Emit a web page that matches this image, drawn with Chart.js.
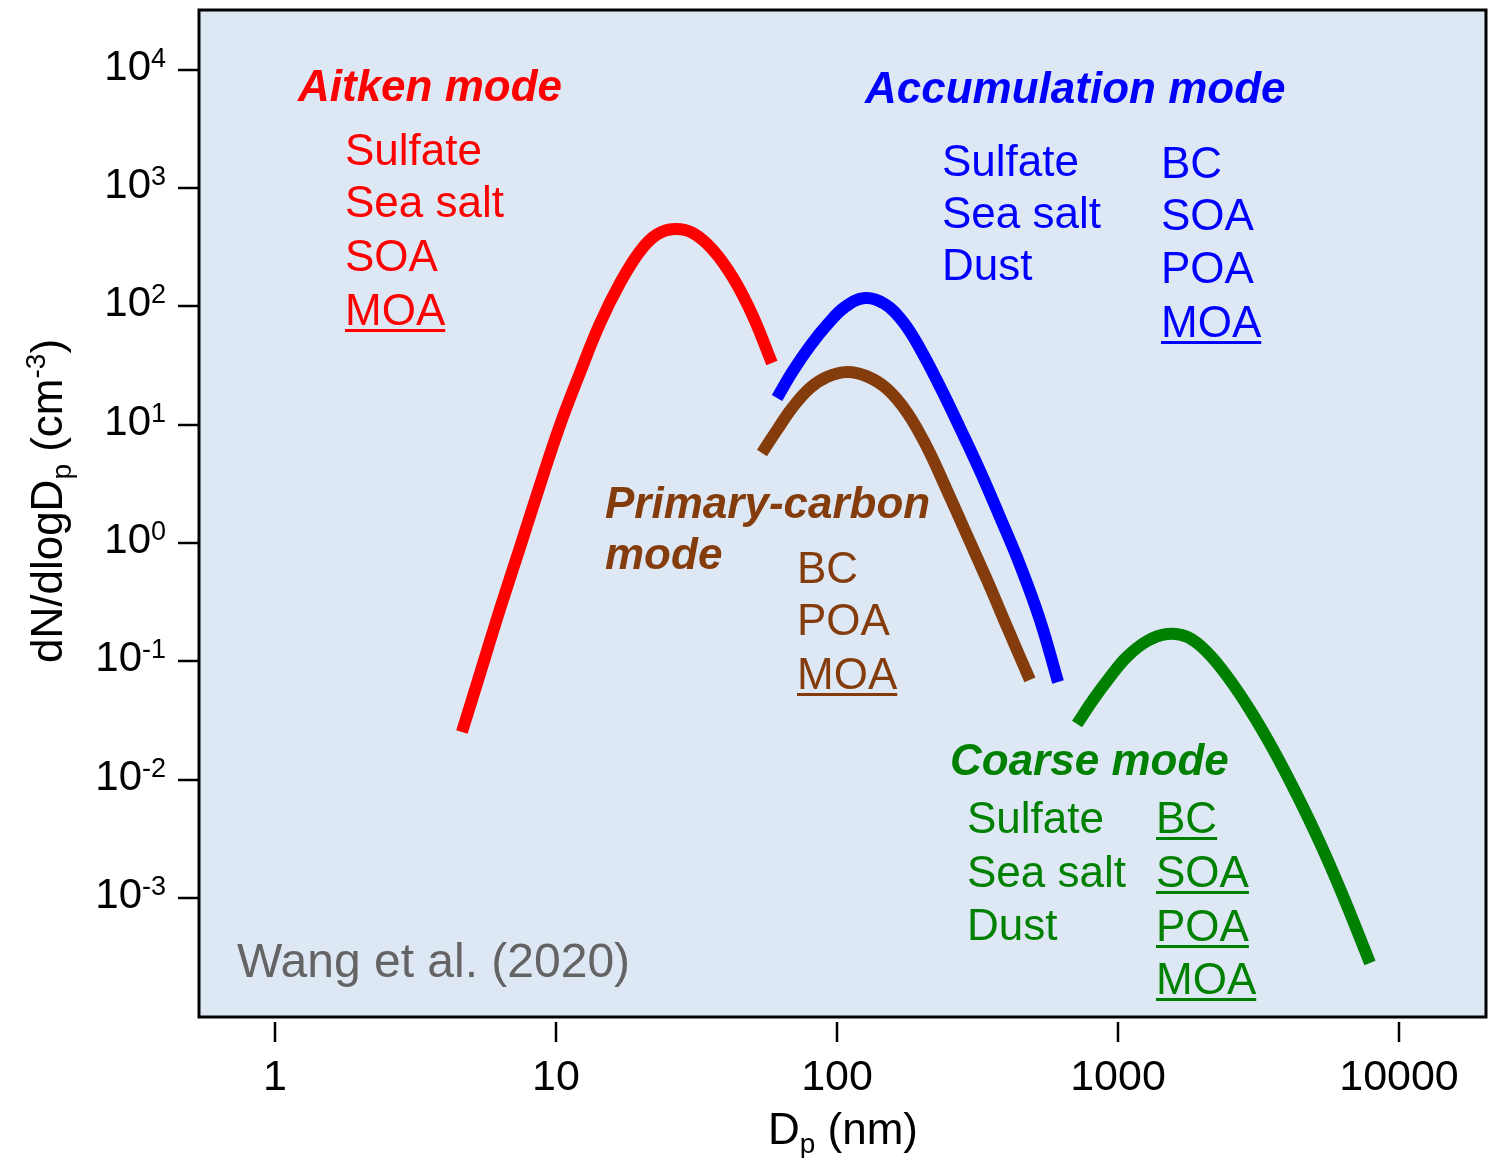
<!DOCTYPE html>
<html>
<head>
<meta charset="utf-8">
<script src="https://cdn.jsdelivr.net/npm/chart.js@4.4.1/dist/chart.umd.min.js"></script>
<style>
  html, body { margin: 0; padding: 0; background: #ffffff; }
  #wrap { width: 1494px; height: 1158px; }
</style>
</head>
<body>
<div id="wrap"><canvas id="modes"></canvas></div>
<script>

// axis ticks
const xTicks = [1, 10, 100, 1000, 10000];
const yTickExps = [4, 3, 2, 1, 0, -1, -2, -3];

// Aitken mode
const aitkenD = [4.63, 5.36, 6.32, 7.45, 8.77, 10.3, 12.2, 14.3, 16.9, 19.9, 22.9, 26.5, 30.7, 36.2, 42.7, 50.2, 58.7];
const aitkenN = [0.0253, 0.0775, 0.275, 0.918, 3.07, 9.67, 27.7, 70.4, 157, 292, 406, 451, 417, 300, 174, 83.0, 33.2];

// Accumulation mode
const accumD = [61.2, 69.7, 80.2, 92.1, 106.8, 125.8, 148, 172, 197, 233, 274, 323, 380, 448, 528, 612];
const accumN = [16.8, 28.4, 46.3, 69.6, 98.8, 117.8, 104.8, 73.8, 44.5, 20.8, 9.38, 4.06, 1.66, 0.652, 0.223, 0.0668];

// Primary-carbon mode
const carbonD = [54.1, 61.2, 69.7, 80.2, 92.1, 108.5, 128, 151, 178, 209, 246, 290, 342, 403, 486];
const carbonN = [5.77, 9.02, 14.1, 20.4, 25.3, 27.9, 25.6, 20.0, 12.6, 6.48, 2.81, 1.17, 0.487, 0.195, 0.0695];

// Coarse mode
const coarseD = [715, 815, 937, 1076, 1268, 1494, 1761, 2073, 2443, 2950, 3561, 4335, 5236, 6320, 7884];
const coarseN = [0.0295, 0.0471, 0.0737, 0.109, 0.148, 0.170, 0.161, 0.120, 0.0751, 0.0388, 0.0181, 0.00741, 0.00291, 0.00104, 0.000282];

const FONT = "'Liberation Sans', Arial, Helvetica, sans-serif";
const RED = '#ff0000', BLUE = '#0000ff', BROWN = '#843c0c', GREEN = '#008000';

// text blocks inside the plot (baseline positions)
const labels = [
  { t: 'Aitken mode', x: 298, y: 101, c: RED, b: true },
  { t: 'Sulfate', x: 345, y: 165, c: RED },
  { t: 'Sea salt', x: 345, y: 217, c: RED },
  { t: 'SOA', x: 345, y: 271, c: RED },
  { t: 'MOA', x: 345, y: 325, c: RED, u: true },

  { t: 'Accumulation mode', x: 865, y: 103, c: BLUE, b: true },
  { t: 'Sulfate', x: 942, y: 176, c: BLUE },
  { t: 'Sea salt', x: 942, y: 228, c: BLUE },
  { t: 'Dust', x: 942, y: 280, c: BLUE },
  { t: 'BC', x: 1161, y: 178, c: BLUE },
  { t: 'SOA', x: 1161, y: 230, c: BLUE },
  { t: 'POA', x: 1161, y: 283, c: BLUE },
  { t: 'MOA', x: 1161, y: 337, c: BLUE, u: true },

  { t: 'Primary-carbon', x: 605, y: 518, c: BROWN, b: true },
  { t: 'mode', x: 605, y: 569, c: BROWN, b: true },
  { t: 'BC', x: 797, y: 583, c: BROWN },
  { t: 'POA', x: 797, y: 635, c: BROWN },
  { t: 'MOA', x: 797, y: 689, c: BROWN, u: true },

  { t: 'Coarse mode', x: 950, y: 775, c: GREEN, b: true },
  { t: 'Sulfate', x: 967, y: 833, c: GREEN },
  { t: 'Sea salt', x: 967, y: 887, c: GREEN },
  { t: 'Dust', x: 967, y: 940, c: GREEN },
  { t: 'BC', x: 1156, y: 833, c: GREEN, u: true },
  { t: 'SOA', x: 1156, y: 887, c: GREEN, u: true },
  { t: 'POA', x: 1156, y: 941, c: GREEN, u: true },
  { t: 'MOA', x: 1156, y: 994, c: GREEN, u: true }
];

function toPoints(D, N) {
  return D.map((d, i) => ({ x: d, y: N[i] }));
}

function modeLine(D, N, color) {
  return {
    data: toPoints(D, N),
    borderColor: color,
    borderWidth: 12,
    borderCapStyle: 'butt',
    borderJoinStyle: 'round',
    pointRadius: 0,
    fill: false,
    tension: 0.4
  };
}

// draws a run of text pieces (for super/subscripts)
function textRun(ctx, parts, x, y, align) {
  let w = 0;
  parts.forEach(p => {
    ctx.font = p.f;
    p.w = ctx.measureText(p.t).width;
    w += p.w;
  });
  let cx = x;
  if (align === 'right') cx = x - w;
  else if (align === 'center') cx = x - w / 2;
  ctx.textAlign = 'left';
  parts.forEach(p => {
    ctx.font = p.f;
    ctx.fillText(p.t, cx, y + (p.dy || 0));
    cx += p.w;
  });
}

const framePlugin = {
  id: 'frame',
  beforeDraw(chart) {
    const { ctx, chartArea: a } = chart;
    ctx.save();
    ctx.fillStyle = '#dde8f4';
    ctx.fillRect(a.left, a.top, a.right - a.left, a.bottom - a.top);
    ctx.restore();
  },
  beforeDatasetsDraw(chart) {
    const ctx = chart.ctx;
    ctx.save();
    ctx.textBaseline = 'alphabetic';
    labels.forEach(l => {
      ctx.font = (l.b ? 'italic bold ' : '') + '44px ' + FONT;
      ctx.fillStyle = l.c;
      ctx.textAlign = 'left';
      ctx.fillText(l.t, l.x, l.y);
      if (l.u) {
        const w = ctx.measureText(l.t).width;
        ctx.fillRect(l.x, l.y + 4, w, 3);
      }
    });
    ctx.font = '48px ' + FONT;
    ctx.fillStyle = '#646464';
    ctx.fillText('Wang et al. (2020)', 237, 977);
    ctx.restore();
  },
  afterDraw(chart) {
    const { ctx, chartArea: a, scales } = chart;
    ctx.save();
    ctx.fillStyle = '#000000';
    ctx.strokeStyle = '#000000';

    // box
    ctx.lineWidth = 3;
    ctx.strokeRect(a.left, a.top, a.right - a.left, a.bottom - a.top);

    // y ticks + labels
    ctx.lineWidth = 2.5;
    ctx.textBaseline = 'alphabetic';
    yTickExps.forEach(e => {
      const py = Math.round(scales.y.getPixelForValue(Math.pow(10, e)));
      ctx.beginPath();
      ctx.moveTo(a.left - 21, py);
      ctx.lineTo(a.left, py);
      ctx.stroke();
      textRun(ctx, [
        { t: '10', f: '42px ' + FONT },
        { t: String(e), f: '27px ' + FONT, dy: -13 }
      ], 166, py + 10, 'right');
    });

    // x ticks + labels
    xTicks.forEach(v => {
      const px = Math.round(scales.x.getPixelForValue(v));
      ctx.beginPath();
      ctx.moveTo(px, a.bottom + 5);
      ctx.lineTo(px, a.bottom + 25);
      ctx.stroke();
      ctx.font = '43px ' + FONT;
      ctx.textAlign = 'center';
      ctx.fillText(String(v), px, a.bottom + 73);
    });

    // x title
    textRun(ctx, [
      { t: 'D', f: '44px ' + FONT },
      { t: 'p', f: '28px ' + FONT, dy: 9 },
      { t: ' (nm)', f: '44px ' + FONT }
    ], 843, 1144, 'center');

    // y title
    ctx.translate(62, 501);
    ctx.rotate(-Math.PI / 2);
    textRun(ctx, [
      { t: 'dN/dlogD', f: '44px ' + FONT },
      { t: 'p', f: '28px ' + FONT, dy: 9 },
      { t: ' (cm', f: '44px ' + FONT },
      { t: '-3', f: '28px ' + FONT, dy: -17 },
      { t: ')', f: '44px ' + FONT }
    ], 0, 0, 'center');
    ctx.restore();
  }
};

new Chart(document.getElementById('modes'), {
  type: 'line',
  data: {
    datasets: [
      modeLine(aitkenD, aitkenN, RED),
      modeLine(accumD, accumN, BLUE),
      modeLine(carbonD, carbonN, BROWN),
      modeLine(coarseD, coarseN, GREEN)
    ]
  },
  options: {
    responsive: true,
    maintainAspectRatio: false,
    animation: false,
    layout: { padding: { left: 199, top: 10, right: 8, bottom: 141 } },
    plugins: {
      legend: { display: false },
      tooltip: { enabled: false }
    },
    scales: {
      x: { type: 'logarithmic', min: 0.537, max: 20400, display: false },
      y: { type: 'logarithmic', min: 9.85e-5, max: 32000, display: false }
    }
  },
  plugins: [framePlugin]
});
</script>
</body>
</html>
